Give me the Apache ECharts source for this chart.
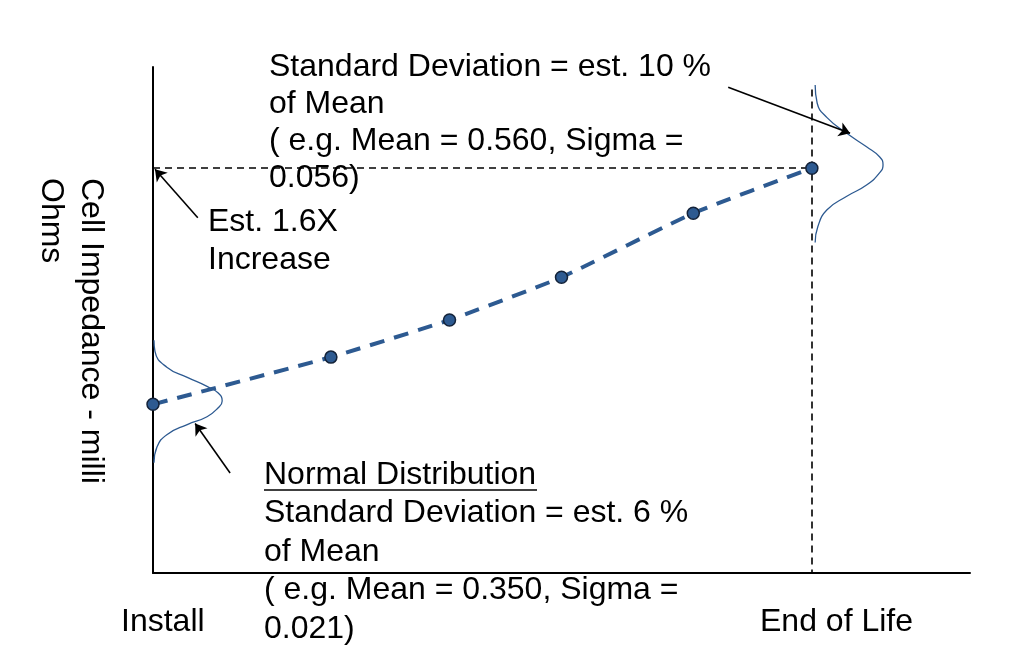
<!DOCTYPE html>
<html>
<head>
<meta charset="utf-8">
<script src="https://cdn.jsdelivr.net/npm/echarts@6/dist/echarts.min.js"></script>
<style>
	html, body { margin: 0; padding: 0; background: #fff; }
	#chart { width: 1024px; height: 669px; }
</style>
</head>
<body>
<div id="chart"></div>
<script>
// life position (Install = 0, End of Life = 100) vs impedance mean
var lifeX = [0, 27, 45, 62, 82, 100];
var impedance = [0.350, 0.392, 0.425, 0.463, 0.520, 0.560];

// distribution curves (x = bulge, y = impedance)
var installCurveX = [0.15, 0.3, 2.1, 5.2, 8.2, 9.9, 10.5, 9.9, 8.2, 5.2, 2.1, 0.6, 0.15];
var installCurveY = [0.407, 0.397, 0.383, 0.374, 0.366, 0.360, 0.353, 0.347, 0.339, 0.332, 0.323, 0.312, 0.298];
var eolCurveX = [100.5, 100.8, 102.3, 105.3, 108.3, 110.3, 110.8, 110.3, 108.3, 105.3, 102.3, 100.9, 100.5];
var eolCurveY = [0.634, 0.618, 0.605, 0.591, 0.579, 0.570, 0.563, 0.556, 0.545, 0.535, 0.523, 0.508, 0.494];

var xLabels = ['Install', 'End of Life'];
var yTitle = ['Cell Impedance - milli', 'Ohms'];
var topNote = ['Standard Deviation = est. 10 %', 'of Mean', '( e.g. Mean = 0.560, Sigma =', '0.056)'];
var midNote = ['Est. 1.6X', 'Increase'];
var lowNote = ['Normal Distribution', 'Standard Deviation = est. 6 %', 'of Mean', '( e.g. Mean = 0.350, Sigma =', '0.021)'];

var FONT = '"Liberation Sans", Arial, sans-serif';
var BLUE = '#2d5a91';

function zip(xs, ys) {
	var out = [];
	for (var i = 0; i < xs.length; i++) out.push([xs[i], ys[i]]);
	return out;
}

function textEl(str, x, y, extra) {
	var el = {
		type: 'text',
		x: x,
		y: y,
		style: {
			text: str,
			fontSize: 32,
			fontFamily: FONT,
			fill: '#000',
			align: 'left',
			verticalAlign: 'middle'
		}
	};
	if (extra) for (var k in extra) el[k] = extra[k];
	return el;
}

function renderChart() {
	var graphics = [];
	topNote.forEach(function(s, i) { graphics.push(textEl(s, 269, 67 + i * 37)); });
	midNote.forEach(function(s, i) { graphics.push(textEl(s, 208, 222 + i * 38)); });
	lowNote.forEach(function(s, i) { graphics.push(textEl(s, 264, 475 + i * 38.5)); });
	graphics.push({
		type: 'line',
		shape: { x1: 264, y1: 490, x2: 537, y2: 490 },
		style: { stroke: '#000', lineWidth: 1.5 }
	});
	graphics.push(textEl(xLabels[0], 121, 622));
	graphics.push(textEl(xLabels[1], 760, 622));
	graphics.push(textEl(yTitle[0], 91, 178, { rotation: -Math.PI / 2 }));
	graphics.push(textEl(yTitle[1], 51, 178, { rotation: -Math.PI / 2 }));

	var option = {
		animation: false,
		grid: { left: 153, right: 54, top: 67, bottom: 96 },
		xAxis: {
			type: 'value',
			min: 0,
			max: 124,
			axisLine: { show: true, lineStyle: { color: '#000', width: 2 } },
			axisTick: { show: false },
			axisLabel: { show: false },
			splitLine: { show: false }
		},
		yAxis: {
			type: 'value',
			min: 0.2,
			max: 0.65,
			axisLine: { show: true, lineStyle: { color: '#000', width: 2 } },
			axisTick: { show: false },
			axisLabel: { show: false },
			splitLine: { show: false }
		},
		graphic: graphics,
		series: [{
			name: 'guides',
			type: 'line',
			data: [],
			markLine: {
				silent: true,
				symbol: ['none', 'none'],
				label: { show: false },
				lineStyle: { color: '#000', width: 1.6, type: [7, 5] },
				data: [
					[{ coord: [0, impedance[5]] }, { coord: [lifeX[5], impedance[5]] }],
					[{ coord: [lifeX[5], eolCurveY[0] - 0.004] }, { coord: [lifeX[5], 0.2] }]
				]
			}
		}, {
			name: 'install',
			type: 'line',
			smooth: 0.5,
			symbol: 'none',
			lineStyle: { color: BLUE, width: 1.3 },
			data: zip(installCurveX, installCurveY)
		}, {
			name: 'eol',
			type: 'line',
			smooth: 0.5,
			symbol: 'none',
			lineStyle: { color: BLUE, width: 1.3 },
			data: zip(eolCurveX, eolCurveY)
		}, {
			name: 'arrows',
			type: 'line',
			data: [],
			markLine: {
				silent: true,
				symbol: ['none', 'arrow'],
				symbolSize: 11,
				label: { show: false },
				itemStyle: { color: '#000' },
				lineStyle: { color: '#000', width: 1.6, type: 'solid' },
				data: [
					[{ coord: [87.3, 0.632] }, { coord: [105.8, 0.591] }],
					[{ coord: [6.8, 0.516] }, { coord: [0.3, 0.559] }],
					[{ coord: [11.7, 0.289] }, { coord: [6.4, 0.333] }]
				]
			}
		}, {
			name: 'impedance',
			type: 'line',
			smooth: 0.15,
			symbol: 'circle',
			symbolSize: 12,
			itemStyle: { color: BLUE, borderColor: '#14233a', borderWidth: 1.5 },
			lineStyle: { color: BLUE, width: 4, type: [15, 10] },
			data: zip(lifeX, impedance),
			z: 5
		}]
	};
	var chart = echarts.init(document.getElementById('chart'));
	chart.setOption(option);
}

renderChart();
</script>
</body>
</html>
